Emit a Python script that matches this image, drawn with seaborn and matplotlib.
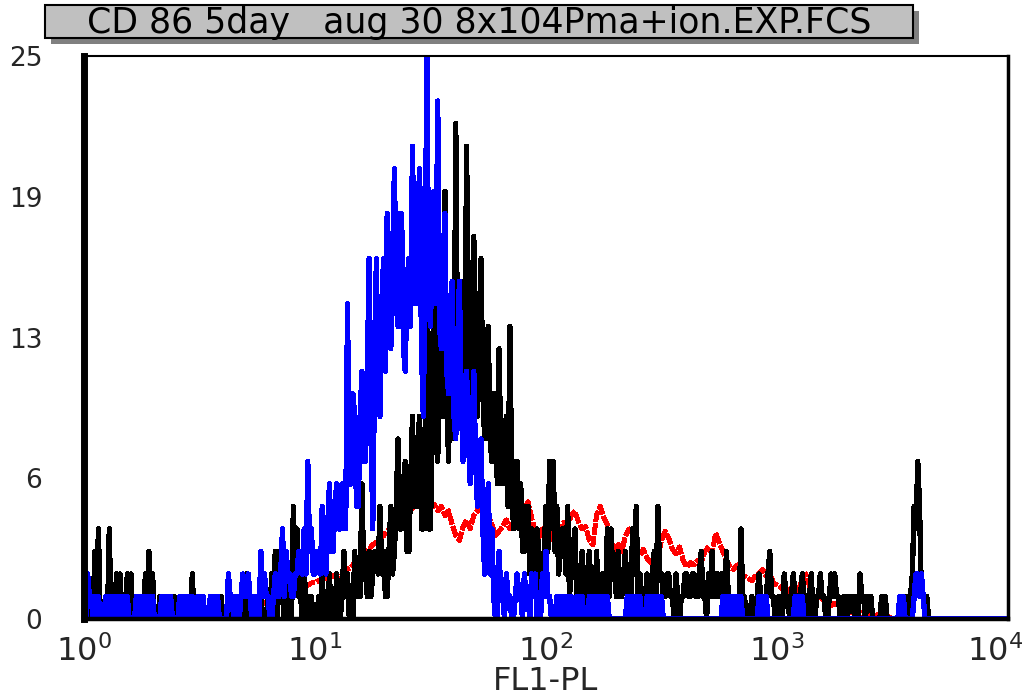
import numpy as np
import pandas as pd
import matplotlib
matplotlib.use("Agg")
import matplotlib.pyplot as plt
import matplotlib.transforms as mtransforms
import seaborn as sns
from matplotlib.ticker import FixedLocator, FixedFormatter, LogLocator, NullFormatter
from matplotlib.patches import Rectangle

# ---------------- data ----------------
# blue / black: 512 log channels over 4 decades; red: 256 channels
ch512 = np.arange(512)
fl1_512 = 10 ** (ch512 * 4 / 512)
ch256 = np.arange(256)
fl1_256 = 10 ** (ch256 * 4 / 256)

blue_counts = [
    1, 0, 2, 1, 1, 0, 1, 0, 1, 0, 0, 0, 1, 0, 1, 0, 1, 0, 1, 0, 1, 0, 1, 0, 1, 0, 0, 0, 0, 1, 0, 1,
    1, 0, 1, 0, 1, 0, 1, 0, 0, 0, 0, 1, 0, 1, 1, 0, 1, 0, 0, 0, 0, 1, 0, 1, 1, 0, 1, 0, 1, 0, 0, 1,
    1, 0, 1, 0, 0, 0, 1, 0, 1, 0, 1, 0, 0, 0, 0, 0, 2, 1, 1, 0, 1, 0, 0, 1, 2, 1, 1, 2, 1, 0, 1, 0,
    1, 0, 3, 1, 2, 1, 1, 0, 0, 1, 2, 1, 1, 2, 4, 1, 3, 2, 2, 1, 1, 2, 2, 3, 3, 2, 4, 2, 7, 3, 4, 2,
    2, 3, 3, 2, 5, 3, 2, 4, 6, 3, 3, 5, 6, 4, 4, 6, 6, 4, 14, 6, 6, 10, 9, 5, 5, 9, 11, 7, 7, 11, 16, 9,
    4, 11, 16, 10, 9, 14, 16, 11, 18, 13, 12, 16, 20, 14, 13, 18, 18, 12, 11, 15, 16, 13, 21, 15, 14, 18, 20, 12, 9, 15, 25, 14,
    13, 17, 19, 14, 23, 13, 12, 16, 18, 11, 10, 13, 15, 9, 8, 12, 15, 10, 7, 9, 11, 8, 6, 8, 11, 7, 5, 7, 8, 4, 2, 3,
    6, 2, 4, 1, 0, 0, 3, 1, 1, 0, 2, 1, 1, 0, 0, 1, 2, 1, 1, 0, 2, 1, 1, 0, 2, 1, 2, 0, 1, 0, 2, 1,
    3, 1, 1, 0, 0, 0, 1, 0, 1, 0, 1, 0, 1, 0, 1, 0, 0, 1, 1, 0, 1, 0, 0, 0, 1, 0, 1, 0, 1, 0, 1, 0,
    1, 0, 1, 0, 0, 0, 0, 0, 0, 0, 0, 0, 0, 1, 1, 0, 1, 0, 1, 0, 1, 0, 0, 0, 1, 0, 1, 0, 1, 0, 1, 0,
    1, 0, 0, 0, 0, 0, 0, 0, 0, 0, 0, 0, 0, 0, 0, 0, 0, 0, 0, 0, 0, 0, 0, 0, 0, 0, 0, 0, 0, 0, 0, 0,
    0, 0, 1, 0, 1, 0, 1, 0, 1, 0, 1, 0, 1, 0, 0, 0, 0, 0, 0, 0, 0, 0, 1, 0, 1, 0, 1, 0, 0, 0, 0, 0,
    0, 0, 0, 0, 0, 0, 0, 0, 0, 0, 1, 0, 1, 0, 1, 0, 0, 0, 0, 0, 0, 0, 0, 0, 0, 0, 0, 0, 0, 0, 0, 0,
    0, 0, 0, 0, 0, 0, 0, 0, 0, 0, 0, 0, 0, 0, 0, 0, 0, 0, 0, 0, 0, 0, 0, 0, 0, 0, 0, 0, 0, 0, 0, 0,
    0, 0, 0, 0, 1, 0, 1, 0, 0, 0, 0, 0, 1, 2, 2, 1, 2, 1, 0, 0, 0, 0, 0, 0, 0, 0, 0, 0, 0, 0, 0, 0,
    0, 0, 0, 0, 0, 0, 0, 0, 0, 0, 0, 0, 0, 0, 0, 0, 0, 0, 0, 0, 0, 0, 0, 0, 0, 0, 0, 0, 0, 0, 0, 0,
]

black_counts = [
    0, 0, 1, 0, 0, 0, 3, 1, 4, 0, 0, 0, 1, 0, 4, 0, 1, 0, 2, 0, 2, 0, 1, 0, 2, 1, 2, 0, 0, 0, 1, 0,
    0, 0, 2, 1, 3, 0, 2, 0, 0, 0, 1, 0, 0, 0, 1, 0, 0, 0, 1, 0, 0, 0, 0, 0, 1, 0, 0, 0, 2, 0, 0, 0,
    1, 0, 0, 0, 0, 0, 1, 0, 0, 0, 0, 0, 1, 0, 0, 0, 0, 0, 1, 0, 0, 0, 1, 0, 2, 0, 2, 0, 0, 0, 1, 0,
    0, 0, 1, 0, 0, 0, 1, 0, 2, 1, 3, 0, 3, 1, 1, 0, 2, 0, 1, 0, 5, 2, 4, 1, 1, 0, 2, 1, 0, 0, 1, 0,
    0, 0, 1, 0, 2, 0, 0, 0, 2, 0, 1, 0, 2, 0, 0, 1, 3, 1, 2, 0, 1, 0, 3, 1, 2, 1, 6, 2, 2, 1, 3, 1,
    2, 3, 3, 2, 5, 2, 3, 1, 1, 3, 5, 2, 3, 5, 8, 4, 4, 6, 7, 3, 3, 6, 9, 5, 5, 8, 9, 4, 4, 8, 15, 4,
    4, 9, 17, 8, 7, 12, 17, 9, 19, 10, 7, 12, 12, 8, 22, 11, 9, 14, 15, 10, 21, 12, 10, 14, 17, 9, 9, 13, 16, 10, 8, 12,
    13, 8, 7, 10, 10, 6, 12, 7, 6, 8, 9, 5, 13, 6, 4, 7, 7, 4, 6, 3, 3, 5, 5, 2, 4, 3, 2, 4, 3, 1, 2, 3,
    5, 3, 7, 4, 7, 3, 5, 2, 3, 4, 4, 2, 5, 1, 2, 3, 4, 1, 1, 2, 3, 0, 1, 2, 3, 1, 2, 0, 3, 1, 1, 2,
    2, 1, 4, 1, 4, 2, 2, 1, 3, 1, 1, 2, 3, 1, 2, 1, 4, 2, 5, 1, 2, 1, 1, 0, 2, 1, 1, 2, 3, 1, 5, 2,
    2, 1, 1, 2, 2, 1, 1, 0, 2, 1, 0, 1, 1, 2, 2, 1, 1, 2, 2, 1, 1, 2, 3, 1, 1, 0, 2, 1, 3, 1, 1, 2,
    1, 2, 2, 1, 3, 1, 1, 0, 0, 1, 1, 0, 4, 1, 1, 0, 0, 0, 1, 0, 0, 1, 2, 1, 1, 0, 1, 2, 3, 1, 1, 0,
    0, 1, 1, 0, 2, 1, 1, 0, 1, 2, 1, 0, 0, 1, 2, 1, 1, 0, 1, 2, 0, 0, 1, 1, 2, 1, 1, 0, 0, 1, 2, 1,
    2, 1, 1, 0, 0, 1, 1, 0, 1, 1, 1, 0, 1, 0, 2, 1, 1, 0, 1, 1, 1, 0, 0, 0, 0, 0, 1, 0, 1, 0, 0, 0,
    0, 0, 0, 0, 0, 0, 0, 0, 1, 0, 1, 2, 5, 4, 7, 5, 1, 1, 0, 1, 0, 0, 0, 0, 0, 0, 0, 0, 0, 0, 0, 0,
    0, 0, 0, 0, 0, 0, 0, 0, 0, 0, 0, 0, 0, 0, 0, 0, 0, 0, 0, 0, 0, 0, 0, 0, 0, 0, 0, 0, 0, 0, 0, 0,
]

red_counts = [
    0, 0, 0, 0, 0, 0, 0, 0, 0, 0, 0, 0, 0, 0, 0, 0,
    0, 0, 0, 0, 0, 0, 0, 0, 0, 0, 0, 0, 0, 0, 0, 0,
    0, 0, 0, 0, 0, 0, 0, 0, 0.3, 0.2, 0.3, 0.4, 0.4, 0.5, 0.5, 0.6,
    0.6, 0.7, 0.7, 0.8, 0.8, 0.9, 1.0, 1.0, 1.1, 1.2, 1.3, 1.3, 1.4, 1.5, 1.5, 1.6,
    1.6, 1.7, 1.8, 1.8, 1.9, 1.9, 2.0, 1.6, 2.0, 2.2, 2.3, 2.5, 2.7, 2.8, 3.0, 3.1,
    3.3, 3.4, 3.6, 3.7, 3.9, 4.0, 4.2, 4.3, 4.5, 4.6, 4.8, 4.9, 5.1, 5.4, 5.8, 5.0,
    4.9, 5.1, 4.8, 5.0, 4.6, 4.8, 4.2, 3.7, 3.5, 4.1, 4.4, 4.0, 4.6, 4.8, 5.3, 5.0,
    4.6, 4.2, 3.7, 3.9, 4.1, 4.4, 4.0, 4.3, 4.6, 4.4, 4.9, 5.2, 4.5, 3.9, 3.6, 4.0,
    3.7, 3.5, 3.8, 3.4, 3.9, 4.3, 4.1, 4.6, 4.8, 4.3, 4.0, 4.1, 3.5, 3.3, 4.6, 5.0,
    4.5, 4.2, 3.4, 3.1, 3.3, 3.0, 3.7, 4.0, 3.8, 3.0, 2.8, 3.1, 2.7, 2.5, 2.4, 2.7,
    3.5, 3.9, 3.6, 3.1, 2.9, 3.2, 2.6, 2.3, 2.5, 2.4, 2.6, 2.5, 3.0, 3.2, 2.9, 3.8,
    3.4, 3.0, 2.6, 2.3, 2.2, 2.4, 2.0, 1.9, 1.8, 1.7, 1.9, 2.0, 2.2, 1.9, 2.1, 1.6,
    1.5, 1.4, 1.3, 1.2, 1.4, 1.1, 1.3, 1.8, 2.0, 1.5, 1.0, 0.9, 1.0, 0.8, 0.7, 0.6,
    0.7, 0.6, 0.4, 0.4, 0.3, 0.3, 0.2, 0.2, 0.3, 0.2, 0.2, 0.1, 0.2, 0.2, 0.2, 0.1,
    0, 0, 0, 0, 0, 0, 0, 0, 0, 0, 0, 0, 0, 0, 0, 0,
    0, 0, 0, 0, 0, 0, 0, 0, 0, 0, 0, 0, 0, 0, 0, 0,
]

assert len(blue_counts) == 512, len(blue_counts)
assert len(black_counts) == 512, len(black_counts)
assert len(red_counts) == 256, len(red_counts)

y_ticks = [0, 6.25, 12.5, 18.75, 25]
y_tick_labels = ["0", "6", "13", "19", "25"]
x_ticks = [1, 10, 100, 1000, 10000]
x_tick_labels = [r"$\mathregular{10^{0}}$", r"$\mathregular{10^{1}}$",
                 r"$\mathregular{10^{2}}$", r"$\mathregular{10^{3}}$",
                 r"$\mathregular{10^{4}}$"]
title_text = "CD 86 5day   aug 30 8x104Pma+ion.EXP.FCS"
x_label = "FL1-PL"

# ---------------- style ----------------
sns.set_style("white")
plt.rcParams["font.family"] = ["DejaVu Sans"]
plt.rcParams["mathtext.default"] = "regular"

W, H = 1032, 698
fig = plt.figure(figsize=(W / 100, H / 100), dpi=100)
L, R, T, B = 84, 1008, 56, 619
ax = fig.add_axes([L / W, 1 - B / H, (R - L) / W, (B - T) / H])

df_red = pd.DataFrame({"fl1": fl1_256, "count": red_counts})
df_black = pd.DataFrame({"fl1": fl1_512, "count": black_counts})
df_blue = pd.DataFrame({"fl1": fl1_512, "count": blue_counts})

sns.lineplot(data=df_red, x="fl1", y="count", ax=ax, color="#ff0000",
             linewidth=2.8, linestyle=(0, (2.6, 0.6)), estimator=None, sort=False,
             antialiased=False)
sns.lineplot(data=df_black, x="fl1", y="count", ax=ax, color="#000000",
             linewidth=3.1, estimator=None, sort=False, antialiased=False)
sns.lineplot(data=df_blue, x="fl1", y="count", ax=ax, color="#0000ff",
             linewidth=3.1, estimator=None, sort=False, antialiased=False)

ax.set_xscale("log")
ax.set_xlim(1, 10000)
ax.set_ylim(0, 25)

ax.xaxis.set_major_locator(FixedLocator(x_ticks))
ax.xaxis.set_major_formatter(FixedFormatter(x_tick_labels))
ax.xaxis.set_minor_locator(LogLocator(base=10, subs=np.arange(2, 10)))
ax.xaxis.set_minor_formatter(NullFormatter())

ax.yaxis.set_major_locator(FixedLocator(y_ticks))
ax.yaxis.set_major_formatter(FixedFormatter(y_tick_labels))
ax.yaxis.set_minor_locator(FixedLocator(list(np.arange(0, 25.01, 25 / 16))))
ax.yaxis.set_minor_formatter(NullFormatter())

ax.tick_params(axis="x", which="major", direction="out", length=6.5, width=1.8,
               labelsize=23, pad=5, color="black")
ax.tick_params(axis="x", which="minor", direction="out", length=4.5, width=1.6,
               color="black")
ax.tick_params(axis="y", which="major", direction="out", length=9, width=1.6,
               labelsize=19, pad=21, color="black")
ax.tick_params(axis="y", which="minor", direction="out", length=4, width=1.4,
               color="black")

for side, lw in [("left", 5), ("top", 1.5), ("right", 2.5), ("bottom", 3.2)]:
    ax.spines[side].set_visible(True)
    ax.spines[side].set_linewidth(lw)
    ax.spines[side].set_color("black")

ax.set_xlabel(x_label, fontsize=23)
ax.xaxis.set_label_coords(0.5, (B - 690) / (B - T))
ax.xaxis.label.set_verticalalignment("baseline")
ax.set_ylabel("")
ax.grid(False)

# keep the last decade label inside the canvas, as in the reference
last = ax.get_xticklabels()[-1]
last.set_transform(last.get_transform() +
                   mtransforms.ScaledTranslation(-0.13, 0, fig.dpi_scale_trans))

# ---------------- title box with shadow ----------------
bx0, bx1, by0, by1 = 45, 913, 5, 38
off = 6
fig.patches.append(Rectangle(((bx0 + off) / W, 1 - (by1 + off) / H),
                             (bx1 - bx0) / W, (by1 - by0) / H,
                             transform=fig.transFigure, facecolor="#808080",
                             edgecolor="none", zorder=1))
fig.patches.append(Rectangle((bx0 / W, 1 - by1 / H),
                             (bx1 - bx0) / W, (by1 - by0) / H,
                             transform=fig.transFigure, facecolor="#c0c0c0",
                             edgecolor="black", linewidth=1.5, zorder=2))
fig.text((bx0 + bx1) / 2 / W, 1 - 32.5 / H, title_text,
         ha="center", va="baseline", fontsize=25, color="black", zorder=3)

fig.savefig("out.png", dpi=100)
